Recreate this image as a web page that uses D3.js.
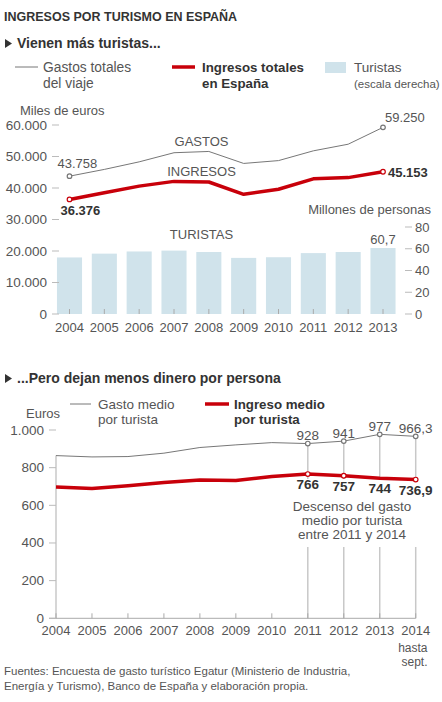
<!DOCTYPE html>
<html>
<head>
<meta charset="utf-8">
<script src="https://cdn.jsdelivr.net/npm/d3@7"></script>
<style>
body {
  margin: 0;
  background-color: white;
}
svg text {
  font-family: "Liberation Sans", Arial, sans-serif;
  fill: #555;
}
</style>
</head>
<body>
<script>

// top chart
const years = [2004, 2005, 2006, 2007, 2008, 2009, 2010, 2011, 2012, 2013];
const gastos = [43758, 45900, 48300, 51200, 51600, 47800, 48700, 51800, 53900, 59250];
const ingresos = [36376, 38500, 40600, 42100, 41900, 38000, 39600, 42900, 43300, 45153];
const turistas = [52.0, 55.5, 57.5, 58.3, 57.0, 51.6, 52.2, 56.0, 57.0, 60.7];
const leftTicks = [0, 10000, 20000, 30000, 40000, 50000, 60000];
const rightTicks = [0, 20, 40, 60, 80];

// bottom chart
const years2 = [2004, 2005, 2006, 2007, 2008, 2009, 2010, 2011, 2012, 2013, 2014];
const gastoMedio = [864, 857, 859, 877, 907, 921, 933, 928, 941, 977, 966.3];
const ingresoMedio = [697, 689, 704, 721, 735, 732, 753, 766, 757, 744, 736.9];
const euroTicks = [0, 200, 400, 600, 800, 1000];
const dropYears = [2004, 2011, 2012, 2013, 2014];

const red = "#c8000a";
const grey = "#777";
const fmt = d3.formatLocale({decimal: ",", thousands: ".", grouping: [3]});
const num = fmt.format(",d");
const dec = fmt.format(",.1f");

const svg = d3.select("body")
            .append("svg")
            .attr("width", 442)
            .attr("height", 702);

// headings
svg.append("text")
   .attr("x", 4).attr("y", 21)
   .attr("font-size", 12.5).attr("font-weight", "bold")
   .style("fill", "#333")
   .text("INGRESOS POR TURISMO EN ESPAÑA");

function subtitle(y, txt) {
  svg.append("path")
     .attr("d", `M5,${y - 9} L12,${y - 4.5} L5,${y}Z`)
     .attr("fill", "#333");
  svg.append("text")
     .attr("x", 17).attr("y", y)
     .attr("font-size", 14).attr("font-weight", "bold")
     .style("fill", "#333")
     .text(txt);
}
subtitle(48, "Vienen más turistas...");
subtitle(383, "...Pero dejan menos dinero por persona");

function label(x, y, txt, opts = {}) {
  return svg.append("text")
     .attr("x", x).attr("y", y)
     .attr("font-size", opts.size || 13)
     .attr("font-weight", opts.bold ? "bold" : null)
     .attr("text-anchor", opts.anchor || "start")
     .style("fill", opts.bold ? "#333" : "#555")
     .text(txt);
}

// legend top
svg.append("line").attr("x1", 15).attr("x2", 38).attr("y1", 67).attr("y2", 67)
   .attr("stroke", grey).attr("stroke-width", 1);
label(43, 71.5, "Gastos totales", {size: 13.8});
label(43, 88, "del viaje", {size: 13.8});
svg.append("line").attr("x1", 172).attr("x2", 195).attr("y1", 67).attr("y2", 67)
   .attr("stroke", red).attr("stroke-width", 3.5);
label(202, 71.5, "Ingresos totales", {bold: true, size: 13.3});
label(202, 88, "en España", {bold: true, size: 13.3});
svg.append("rect").attr("x", 325).attr("y", 62).attr("width", 21).attr("height", 11)
   .attr("fill", "#d0e3eb");
label(354, 71.5, "Turistas", {size: 13.5});
label(354, 88, "(escala derecha)", {size: 11.5});

label(20, 114.5, "Miles de euros");

// scales top
const x = d3.scalePoint().domain(years).range([69.5, 383]);
const yL = d3.scaleLinear().domain([0, 60000]).range([314, 125]);
const yR = d3.scaleLinear().domain([0, 80]).range([314, 227]);
const barW = x.step() * 0.72;

const g = svg.append("g");

g.selectAll("rect.bar").data(years).enter()
 .append("rect")
 .attr("class", "bar")
 .attr("x", (d) => x(d) - barW / 2)
 .attr("y", (d, i) => yR(turistas[i]))
 .attr("width", barW)
 .attr("height", (d, i) => yR(0) - yR(turistas[i]))
 .attr("fill", "#d0e3eb");

// year ticks
g.selectAll("line.xt").data(years).enter()
 .append("line")
 .attr("x1", (d) => x(d)).attr("x2", (d) => x(d))
 .attr("y1", yL(0) - 5).attr("y2", yL(0))
 .attr("stroke", "#aaa");

g.selectAll("text.yr").data(years).enter()
 .append("text")
 .attr("x", (d) => x(d)).attr("y", 332)
 .attr("text-anchor", "middle").attr("font-size", 13)
 .text((d) => d);

// left axis
g.selectAll("line.lt").data(leftTicks).enter()
 .append("line")
 .attr("x1", 52).attr("x2", 59)
 .attr("y1", (d) => yL(d)).attr("y2", (d) => yL(d))
 .attr("stroke", "#bbb");
g.selectAll("text.lt").data(leftTicks).enter()
 .append("text")
 .attr("x", 47).attr("y", (d) => yL(d) + 4.5)
 .attr("text-anchor", "end").attr("font-size", 13.5)
 .text((d) => num(d));

// right axis
g.selectAll("line.rt").data(rightTicks).enter()
 .append("line")
 .attr("x1", 405).attr("x2", 412)
 .attr("y1", (d) => yR(d)).attr("y2", (d) => yR(d))
 .attr("stroke", "#bbb");
g.selectAll("text.rt").data(rightTicks).enter()
 .append("text")
 .attr("x", 415).attr("y", (d) => yR(d) + 4.5)
 .attr("font-size", 13)
 .text((d) => d);
label(431, 213.5, "Millones de personas", {anchor: "end"});

// lines
const lineG = d3.line().x((d, i) => x(years[i])).y((d) => yL(d));
g.append("path").datum(gastos)
 .attr("d", lineG).attr("fill", "none")
 .attr("stroke", grey).attr("stroke-width", 1);
g.append("path").datum(ingresos)
 .attr("d", lineG).attr("fill", "none")
 .attr("stroke", red).attr("stroke-width", 3.5)
 .attr("stroke-linejoin", "round");

const last = years.length - 1;
[[gastos, grey], [ingresos, red]].forEach(([s, c]) => {
  [0, last].forEach((i) => {
    g.append("circle")
     .attr("cx", x(years[i])).attr("cy", yL(s[i])).attr("r", 2.3)
     .attr("fill", "white").attr("stroke", c).attr("stroke-width", 1.2);
  });
});

label(x(years[0]) - 12, yL(gastos[0]) - 8, num(gastos[0]));
label(x(years[0]) - 9, yL(ingresos[0]) + 16, num(ingresos[0]), {bold: true});
label(x(years[last]) + 2, yL(gastos[last]) - 5, num(gastos[last]));
label(x(years[last]) + 5, yL(ingresos[last]) + 5, num(ingresos[last]), {bold: true});
label(x(years[last]), yR(turistas[last]) - 4, dec(turistas[last]), {anchor: "middle"});

label(201.5, 146, "GASTOS", {anchor: "middle"});
label(201.5, 176, "INGRESOS", {anchor: "middle"});
label(201.5, 238.5, "TURISTAS", {anchor: "middle"});

// ---- bottom chart ----
svg.append("line").attr("x1", 70).attr("x2", 91).attr("y1", 404).attr("y2", 404)
   .attr("stroke", grey).attr("stroke-width", 1);
label(98, 408.5, "Gasto medio", {size: 13.5});
label(98, 424, "por turista", {size: 13.5});
svg.append("line").attr("x1", 205).attr("x2", 229).attr("y1", 404).attr("y2", 404)
   .attr("stroke", red).attr("stroke-width", 3.5);
label(234, 408.5, "Ingreso medio", {bold: true, size: 13.3});
label(234, 424, "por turista", {bold: true, size: 13.3});
label(26, 418, "Euros");

const x2 = d3.scalePoint().domain(years2).range([56, 415.7]);
const y2 = d3.scaleLinear().domain([0, 1000]).range([618.3, 430]);

const b = svg.append("g");

// drop lines
b.selectAll("line.drop").data(dropYears).enter()
 .append("line")
 .attr("x1", (d) => x2(d)).attr("x2", (d) => x2(d))
 .attr("y1", (d) => y2(gastoMedio[years2.indexOf(d)]))
 .attr("y2", y2(0))
 .attr("stroke", "#c8c8c8").attr("stroke-width", 1.5);

// white box behind annotation
b.append("rect")
 .attr("x", 292).attr("y", 479).attr("width", 150).attr("height", 68)
 .attr("fill", "white");

// x axis
b.append("line")
 .attr("x1", 49).attr("x2", x2(2014)).attr("y1", y2(0)).attr("y2", y2(0))
 .attr("stroke", "#aaa");
b.selectAll("line.xt").data(years2).enter()
 .append("line")
 .attr("x1", (d) => x2(d)).attr("x2", (d) => x2(d))
 .attr("y1", y2(0) - 5).attr("y2", y2(0))
 .attr("stroke", "#aaa");
b.selectAll("text.yr").data(years2).enter()
 .append("text")
 .attr("x", (d) => x2(d)).attr("y", 635)
 .attr("text-anchor", "middle").attr("font-size", 13)
 .text((d) => d);

label(427.5, 651.5, "hasta", {anchor: "end", size: 12});
label(427.5, 665.5, "sept.", {anchor: "end", size: 12});

// y axis
b.selectAll("line.yt").data(euroTicks).enter()
 .append("line")
 .attr("x1", 49).attr("x2", 56)
 .attr("y1", (d) => y2(d)).attr("y2", (d) => y2(d))
 .attr("stroke", "#bbb");
b.selectAll("text.yt").data(euroTicks).enter()
 .append("text")
 .attr("x", 44).attr("y", (d) => y2(d) + 4.5)
 .attr("text-anchor", "end").attr("font-size", 13.5)
 .text((d) => num(d));

const line2 = d3.line().x((d, i) => x2(years2[i])).y((d) => y2(d));
b.append("path").datum(gastoMedio)
 .attr("d", line2).attr("fill", "none")
 .attr("stroke", grey).attr("stroke-width", 1);
b.append("path").datum(ingresoMedio)
 .attr("d", line2).attr("fill", "none")
 .attr("stroke", red).attr("stroke-width", 3.5)
 .attr("stroke-linejoin", "round");

const tail = [7, 8, 9, 10];
const fmtV = (v) => (v % 1 ? dec(v) : num(v));
tail.forEach((i) => {
  b.append("circle")
   .attr("cx", x2(years2[i])).attr("cy", y2(gastoMedio[i])).attr("r", 2.3)
   .attr("fill", "white").attr("stroke", grey).attr("stroke-width", 1.2);
  if (i !== 9) {
    b.append("circle")
     .attr("cx", x2(years2[i])).attr("cy", y2(ingresoMedio[i])).attr("r", 2.3)
     .attr("fill", "white").attr("stroke", red).attr("stroke-width", 1.2);
  }
  label(x2(years2[i]), y2(gastoMedio[i]) - 3.5, fmtV(gastoMedio[i]), {anchor: "middle", size: 13.5});
  label(x2(years2[i]), y2(ingresoMedio[i]) + 15, fmtV(ingresoMedio[i]), {anchor: "middle", bold: true, size: 13.5});
});

label(352, 510.5, "Descenso del gasto", {anchor: "middle", size: 13.5});
label(352, 524.5, "medio por turista", {anchor: "middle", size: 13.5});
label(352, 538.5, "entre 2011 y 2014", {anchor: "middle", size: 13.5});

// source
label(4, 675, "Fuentes: Encuesta de gasto turístico Egatur (Ministerio de Industria,", {size: 11.5});
label(4, 690, "Energía y Turismo), Banco de España y elaboración propia.", {size: 11.5});

</script>
</body>
</html>
